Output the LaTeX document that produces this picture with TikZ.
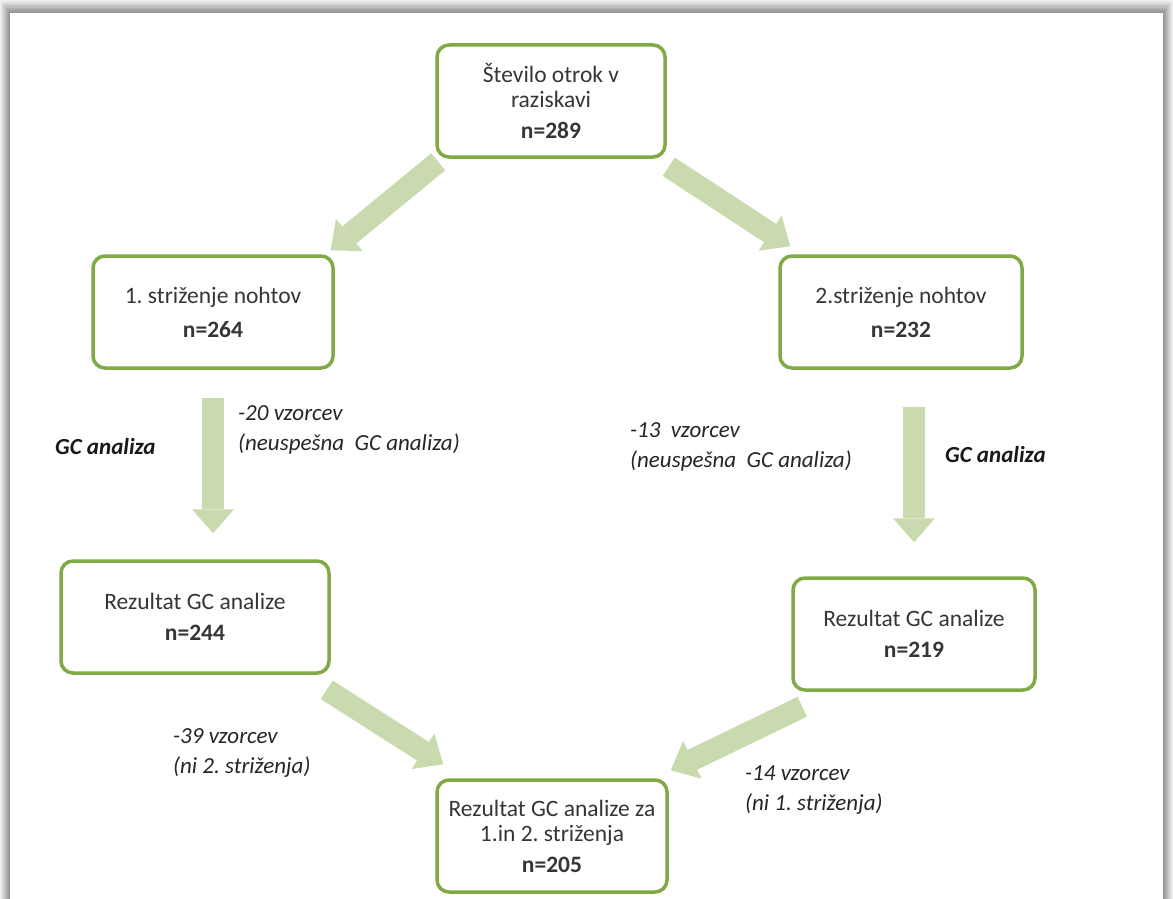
\documentclass[tikz,border=0pt]{standalone}
\usepackage{fontspec}
\setmainfont{Carlito}
\usetikzlibrary{arrows.meta}

\definecolor{boxgreen}{HTML}{7FAA45}
\definecolor{arrowgreen}{HTML}{C8DAAE}
\definecolor{textgray}{HTML}{363636}

\begin{document}
\frenchspacing
\begin{tikzpicture}[x=1pt, y=-1pt,
    stage/.style={draw=boxgreen, line width=3.5pt, rounded corners=12pt, fill=white,
                  align=center, text=textgray, minimum height=112pt,
                  font=\fontsize{23.5}{25}\selectfont},
    flow/.style={arrowgreen, line width=22pt, line cap=butt,
                 every edge/.append style={-{Triangle[width=42pt,length=24pt,line width=0pt]}}},
    note/.style={anchor=west, inner sep=0pt, align=left, text=black!85,
                 font=\fontsize{23}{30}\selectfont\itshape},
    method/.style={anchor=west, inner sep=0pt, text=black!90,
                   font=\fontsize{23}{26}\selectfont\bfseries\itshape}]

  \useasboundingbox (0,0) rectangle (1173,899);

  % frame with shadow
  \foreach \i [evaluate=\i as \g using 6+4*\i] in {0,...,9}
    \fill[black!\g] (\i,1.3*\i) rectangle (1173-\i,899);
  \fill[white] (10,13) rectangle (1163,899);

  \node[stage, minimum width=228pt] (top) at (551,101)
    {Število otrok v\\raziskavi\\[6pt]\textbf{n=289}};
  \node[stage, minimum width=240pt] (b1) at (213,312)
    {1. striženje nohtov\\[9pt]\textbf{n=264}};
  \node[stage, minimum width=242pt] (b2) at (901,312)
    {2.striženje nohtov\\[9pt]\textbf{n=232}};
  \node[stage, minimum width=268pt] (b3) at (195,617)
    {Rezultat GC analize\\[6pt]\textbf{n=244}};
  \node[stage, minimum width=242pt] (b4) at (914,634)
    {Rezultat GC analize\\[6pt]\textbf{n=219}};
  \node[stage, minimum width=230pt] (b5) at (552,836)
    {Rezultat GC analize za\\1.in 2. striženja\\[6pt]\textbf{n=205}};

  \path[flow]
    ([shift={(3,3)}]top.south west) edge ([shift={(-4,-4)}]b1.north east)
    ([shift={(2,8)}]top.south east) edge ([shift={(12,-8)}]b2.north west)
    (b1.south) edge[shorten <=28pt, shorten >=26pt] (b1.south |- b3.north)
    (b4.north |- b2.south) edge[shorten <=37pt, shorten >=34pt] (b4.north)
    ([shift={(-4,15)}]b3.south east) edge ([shift={(8,-14)}]b5.north west)
    ([shift={(11,15)}]b4.south west) edge ([shift={(2,-8)}]b5.north east);

  \node[method] (gc1) at (55,447) {GC analiza};
  \node[note] (n20) at (238,430) {-20 vzorcev\\(neuspešna \ GC analiza)};
  \node[note] (n13) at (630,447) {-13 \ vzorcev\\(neuspešna \ GC analiza)};
  \node[method] (gc2) at (945,455) {GC analiza};
  \node[note] (n39) at (173,753) {-39 vzorcev\\(ni 2. striženja)};
  \node[note] (n14) at (745,790) {-14 vzorcev\\(ni 1. striženja)};
\end{tikzpicture}
\end{document}
